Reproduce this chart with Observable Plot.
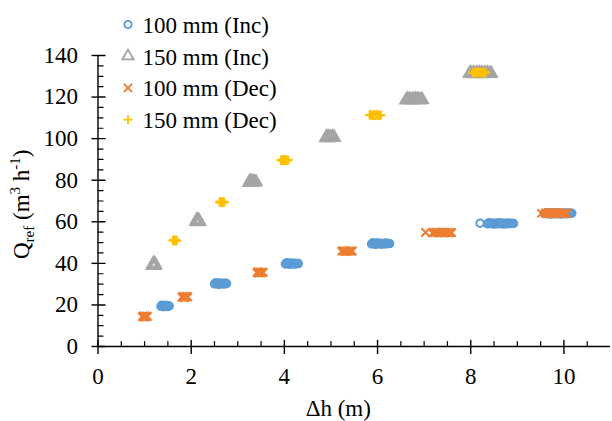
<!DOCTYPE html>
<html><head><meta charset="utf-8">
<script src="https://cdn.jsdelivr.net/npm/d3@7"></script>
<script src="https://cdn.jsdelivr.net/npm/@observablehq/plot@0.6"></script>
<style>body{margin:0;background:#fff}</style>
</head><body><div id="chart"></div>
<script>
// ---- series meta ----
const seriesNames = ["100 mm (Inc)", "150 mm (Inc)", "100 mm (Dec)", "150 mm (Dec)"];
const seriesColors = ["#5B9BD5", "#A5A5A5", "#ED7D31", "#FFC000"];
const seriesSymbols = ["circle", "triangle", "times", "plus"];
const seriesRadius = [3.7, 4.2, 3.8, 3.1];

// ---- 100 mm (Inc) ----
const inc100X = [1.35,1.37,1.39,1.41,1.43,1.45,1.47,1.49,1.51,1.53,
  2.50,2.53,2.56,2.59,2.62,2.65,2.68,2.71,2.74,2.76,
  4.02,4.05,4.08,4.11,4.14,4.17,4.20,4.23,4.26,4.30,
  5.87,5.90,5.93,5.96,5.99,6.02,6.05,6.08,6.11,6.14,6.17,6.20,6.23,6.26,
  8.20,8.36,8.39,8.43,8.46,8.50,8.53,8.57,8.60,8.64,8.67,8.71,8.74,8.78,8.81,8.85,8.88,8.92,
  9.58,9.62,9.65,9.69,9.72,9.76,9.79,9.83,9.86,9.90,9.93,9.97,10.00,10.04,10.07,10.11,10.14,10.17];
const inc100Y = [19.3,19.9,19.5,19.1,19.8,19.4,19.7,19.2,19.6,19.5,
  30.1,30.7,30.3,29.9,30.6,30.2,30.5,30.0,30.4,30.3,
  39.7,40.3,39.9,39.5,40.2,39.8,40.1,39.6,40.0,39.9,
  49.3,49.9,49.5,49.1,49.8,49.4,49.7,49.2,49.6,49.3,49.8,49.4,49.6,49.5,
  59.3,59.0,59.5,59.1,59.4,58.9,59.3,59.0,59.5,59.1,59.4,58.9,59.3,59.0,59.4,59.1,59.3,59.2,
  64.0,64.4,63.8,64.2,63.7,64.3,63.9,64.4,63.8,64.2,63.7,64.3,63.9,64.2,63.8,64.3,64.0,64.1];

// ---- 150 mm (Inc) ----
const inc150X = [1.17,1.19,1.21,1.23,1.20,1.18,1.22,
  2.10,2.12,2.14,2.16,2.18,2.13,2.15,
  3.24,3.26,3.28,3.30,3.32,3.34,3.36,3.39,
  4.89,4.91,4.93,4.95,4.97,4.99,5.01,5.03,5.05,5.07,
  6.61,6.64,6.67,6.70,6.73,6.76,6.79,6.82,6.85,6.88,6.91,6.94,6.96,
  7.97,8.00,8.03,8.06,8.09,8.12,8.15,8.18,8.21,8.24,8.27,8.30,8.33,8.36,8.39,8.42,8.44];
const inc150Y = [38.9,39.8,39.2,39.5,40.1,39.5,38.9,
  60.0,60.8,60.3,60.7,60.1,61.0,59.9,
  78.8,79.6,79.1,79.5,78.9,79.4,79.0,79.2,
  100.3,101.0,100.5,100.9,100.3,100.8,100.4,101.0,100.5,100.6,
  118.5,119.2,118.7,119.1,118.5,119.0,118.6,119.2,118.7,119.1,118.5,118.9,118.7,
  131.2,131.8,131.2,131.7,131.1,131.6,131.3,131.8,131.2,131.7,131.1,131.6,131.3,131.7,131.2,131.5,131.4];

// ---- 100 mm (Dec) ----
const dec100X = [0.95,0.97,0.99,1.01,1.03,1.05,1.06,
  1.80,1.82,1.84,1.86,1.88,1.90,1.93,
  3.41,3.43,3.45,3.47,3.50,3.52,3.55,
  5.23,5.26,5.29,5.32,5.35,5.38,5.41,5.44,5.46,
  7.03,7.18,7.21,7.24,7.27,7.30,7.33,7.36,7.39,7.42,7.45,7.48,7.51,7.54,7.57,7.59,
  9.52,9.60,9.63,9.66,9.69,9.72,9.75,9.78,9.81,9.84,9.87,9.90,9.93,9.96,9.99,10.02,10.06];
const dec100Y = [14.3,14.8,14.1,14.6,14.2,14.7,14.4,
  23.7,24.2,23.5,24.0,23.6,24.1,23.8,
  35.5,36.0,35.3,35.8,35.4,35.9,35.6,
  45.8,46.2,45.6,46.0,45.7,46.1,45.8,46.0,45.9,
  54.9,54.6,55.0,54.7,55.1,54.6,54.9,54.7,55.0,54.6,54.9,54.7,55.0,54.6,54.9,54.8,
  64.1,64.3,63.9,64.4,64.0,64.3,63.9,64.4,64.0,64.3,63.9,64.4,64.0,64.3,64.0,64.2,64.1];

// ---- 150 mm (Dec) ----
const dec150X = [1.61,1.63,1.65,1.67,1.69,
  2.61,2.63,2.65,2.67,2.69,2.71,
  3.93,3.95,3.97,3.99,4.01,4.03,4.05,4.08,
  5.83,5.86,5.89,5.92,5.95,5.98,6.01,6.04,6.07,
  8.04,8.07,8.10,8.13,8.16,8.19,8.22,8.25,8.28,8.32];
const dec150Y = [51.0,51.3,50.8,51.2,50.9,
  69.4,69.7,69.2,69.6,69.3,69.5,
  89.6,89.9,89.4,89.8,89.5,89.8,89.5,89.7,
  111.3,111.6,111.1,111.5,111.2,111.5,111.1,111.4,111.3,
  131.8,132.1,131.6,132.0,131.7,132.0,131.6,131.9,131.7,131.9];

// ---- axes ----
const xMajorTicks = [0, 2, 4, 6, 8, 10];
const xMinorTicks = [0.5,1,1.5,2.5,3,3.5,4.5,5,5.5,6.5,7,7.5,8.5,9,9.5,10.5];
const yMajorTicks = [0, 20, 40, 60, 80, 100, 120, 140];
const yMinorTicks = [5,10,15,25,30,35,45,50,55,65,70,75,85,90,95,105,110,115,125,130,135];
const xTitle = "Δh (m)";

const seriesX = [inc100X, inc150X, dec100X, dec150X];
const seriesY = [inc100Y, inc150Y, dec100Y, dec150Y];

const FONT = "Liberation Serif";
const tickShape = {draw(ctx, l) { ctx.moveTo(0, 0); ctx.lineTo(0, -l); }};

const marks = [];
marks.push(Plot.ruleY([0], {stroke: "black", strokeWidth: 1.4}));
marks.push(Plot.ruleX([0], {stroke: "black", strokeWidth: 1.4}));
marks.push(Plot.axisX({ticks: xMajorTicks, tickSize: 8, tickPadding: 13, tickFormat: d => d, label: null, fontSize: 23, fontFamily: FONT, strokeWidth: 1.4}));
marks.push(Plot.axisY({ticks: yMajorTicks, tickSize: 6, tickPadding: 14, tickFormat: d => d, label: null, fontSize: 23, fontFamily: FONT, strokeWidth: 1.4}));
marks.push(Plot.vector(xMajorTicks, {x: d => d, frameAnchor: "bottom", length: 6, rotate: 0, anchor: "start", shape: tickShape, stroke: "black", strokeWidth: 1.4}));
marks.push(Plot.vector(xMinorTicks, {x: d => d, frameAnchor: "bottom", length: 5, rotate: 0, anchor: "start", shape: tickShape, stroke: "black", strokeWidth: 1.2}));
marks.push(Plot.vector(yMajorTicks, {y: d => d, frameAnchor: "left", length: 7, rotate: 90, anchor: "start", shape: tickShape, stroke: "black", strokeWidth: 1.4}));
marks.push(Plot.vector(yMinorTicks, {y: d => d, frameAnchor: "left", length: 5, rotate: 90, anchor: "start", shape: tickShape, stroke: "black", strokeWidth: 1.2}));

seriesNames.forEach((name, i) => {
  const data = seriesX[i].map((x, j) => ({x, y: seriesY[i][j]}));
  marks.push(Plot.dot(data, {x: "x", y: "y", symbol: () => seriesSymbols[i], r: seriesRadius[i],
    stroke: seriesColors[i], fill: "none", strokeWidth: 2}));
});

seriesNames.forEach((name, i) => {
  const dy = -30 + i * 31.7;
  marks.push(Plot.dot([name], {frameAnchor: "top-left", dx: 30, dy: dy - 1, symbol: () => seriesSymbols[i],
    r: seriesRadius[i], stroke: seriesColors[i], fill: "none", strokeWidth: 1.8}));
  marks.push(Plot.text([name], {frameAnchor: "top-left", dx: 44.5, dy, text: d => d, textAnchor: "start",
    lineAnchor: "middle", fontSize: 23, fontFamily: FONT, fill: "black"}));
});

marks.push(Plot.text([xTitle], {frameAnchor: "bottom", dx: -16, dy: 62, text: d => d, fontSize: 23, fontFamily: FONT, fill: "black", lineAnchor: "middle"}));

const chart = Plot.plot({
  width: 612, height: 421,
  marginLeft: 97.5, marginRight: 2, marginTop: 55, marginBottom: 75,
  x: {domain: [0, 11]},
  y: {domain: [0, 140]},
  symbol: {type: "identity"},
  marks
});
document.getElementById("chart").appendChild(chart);

const svg = d3.select(chart);
const yt = svg.append("text")
  .attr("transform", "translate(29,259) rotate(-90)")
  .attr("text-anchor", "start")
  .attr("font-family", FONT)
  .attr("font-size", 23).attr("fill", "black");
yt.append("tspan").text("Q");
yt.append("tspan").attr("font-size", 15).attr("dy", 5).text("ref");
yt.append("tspan").attr("dy", -5).text(" (m");
yt.append("tspan").attr("font-size", 15).attr("dy", -9).text("3");
yt.append("tspan").attr("dy", 9).text(" h");
yt.append("tspan").attr("font-size", 15).attr("dy", -9).text("-1");
yt.append("tspan").attr("dy", 9).text(")");
</script>
</body></html>
